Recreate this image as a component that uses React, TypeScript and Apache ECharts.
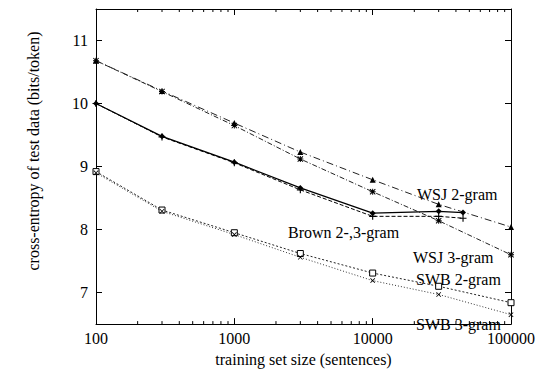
import React, { useEffect, useRef } from "react";
import * as echarts from "echarts";

const sizes = [100, 300, 1000, 3000, 10000, 30000, 100000];
const brownSizes = [100, 300, 1000, 3000, 10000, 30000, 45000];
const wsj2 = [10.68, 10.2, 9.69, 9.23, 8.79, 8.4, 8.04];
const wsj3 = [10.68, 10.19, 9.65, 9.12, 8.6, 8.14, 7.6];
const brown2 = [10.0, 9.48, 9.07, 8.66, 8.26, 8.29, 8.27];
const brown3 = [10.0, 9.47, 9.06, 8.63, 8.21, 8.21, 8.18];
const swb2 = [8.92, 8.31, 7.95, 7.62, 7.31, 7.1, 6.84];
const swb3 = [8.9, 8.29, 7.92, 7.56, 7.19, 6.97, 6.65];
const minorX = [
  200, 300, 400, 500, 600, 700, 800, 900,
  2000, 3000, 4000, 5000, 6000, 7000, 8000, 9000,
  20000, 30000, 40000, 50000, 60000, 70000, 80000, 90000,
];
const curveLabels = ["WSJ 2-gram", "Brown 2-,3-gram", "WSJ 3-gram", "SWB 2-gram", "SWB 3-gram"];
const xTitle = "training set size (sentences)";
const yTitle = "cross-entropy of test data (bits/token)";

const FONT = '"Liberation Serif", "Times New Roman", serif';
const PLUS = "path://M4.2,0H5.8V4.2H10V5.8H5.8V10H4.2V5.8H0V4.2H4.2Z";
const CROSS = "path://M0,1.1L1.1,0L5,3.9L8.9,0L10,1.1L6.1,5L10,8.9L8.9,10L5,6.1L1.1,10L0,8.9L3.9,5Z";
const STAR =
  "path://M4.2,0H5.8V4.2H10V5.8H5.8V10H4.2V5.8H0V4.2H4.2Z M0,1.1L1.1,0L5,3.9L8.9,0L10,1.1L6.1,5L10,8.9L8.9,10L5,6.1L1.1,10L0,8.9L3.9,5Z";

const zip = (xs: number[], ys: number[]) => xs.map((x, i) => [x, ys[i]]);

export default function App() {
  const ref = useRef<HTMLDivElement>(null);
  useEffect(() => {
    if (!ref.current) return;
    const chart = echarts.init(ref.current, null, { renderer: "svg" });
    const lineSeries = (
      name: string,
      xs: number[],
      ys: number[],
      symbol: string,
      symbolSize: number,
      type: any,
      width: number,
      color: string,
      fill?: string
    ) => ({
      name,
      type: "line",
      data: zip(xs, ys),
      symbol,
      symbolSize,
      showSymbol: true,
      xAxisIndex: 0,
      yAxisIndex: 0,
      lineStyle: { color, width, type },
      itemStyle: fill
        ? { color: fill, borderColor: "#000", borderWidth: 1 }
        : { color: "#000", borderWidth: 0 },
      z: 3,
    });
    const labelStyle = { fontFamily: FONT, fontSize: 16, fill: "#000" };
    chart.setOption({
      animation: false,
      grid: { left: 96, right: 27, top: 9, bottom: 41 },
      xAxis: [
        {
          type: "log",
          logBase: 10,
          min: 100,
          max: 100000,
          position: "bottom",
          axisLine: { show: true, lineStyle: { color: "#000", width: 1 } },
          axisTick: { show: true, inside: true, length: 6, lineStyle: { color: "#000" } },
          axisLabel: {
            fontFamily: FONT,
            fontSize: 16,
            color: "#000",
            margin: 6,
            formatter: (v: number) => String(Math.round(v)),
          },
          splitLine: { show: false },
          name: xTitle,
          nameLocation: "middle",
          nameGap: 24,
          nameTextStyle: { fontFamily: FONT, fontSize: 16, color: "#000" },
        },
        {
          type: "log",
          logBase: 10,
          min: 100,
          max: 100000,
          position: "top",
          axisLine: { show: true, lineStyle: { color: "#000", width: 1 } },
          axisTick: { show: true, inside: true, length: 6, lineStyle: { color: "#000" } },
          axisLabel: { show: false },
          splitLine: { show: false },
        },
      ],
      yAxis: [
        {
          type: "value",
          min: 6.5,
          max: 11.5,
          splitNumber: 5,
          position: "left",
          axisLine: { show: true, lineStyle: { color: "#000", width: 1 } },
          axisTick: { show: true, inside: true, length: 6, lineStyle: { color: "#000" } },
          axisLabel: {
            fontFamily: FONT,
            fontSize: 16,
            color: "#000",
            margin: 8,
            showMinLabel: false,
            showMaxLabel: false,
            formatter: (v: number) => (Number.isInteger(v) ? String(v) : ""),
          },
          splitLine: { show: false },
        },
        {
          type: "value",
          min: 6.5,
          max: 11.5,
          splitNumber: 5,
          position: "right",
          axisLine: { show: true, lineStyle: { color: "#000", width: 1 } },
          axisTick: { show: true, inside: true, length: 6, lineStyle: { color: "#000" } },
          axisLabel: { show: false },
          splitLine: { show: false },
        },
      ],
      graphic: [
        {
          type: "text",
          x: 33,
          y: 151,
          rotation: Math.PI / 2,
          style: { ...labelStyle, text: yTitle, textAlign: "center", textVerticalAlign: "middle" },
        },
        { type: "text", x: 417, y: 194, style: { ...labelStyle, text: curveLabels[0], textVerticalAlign: "middle" } },
        { type: "text", x: 288, y: 232, style: { ...labelStyle, text: curveLabels[1], textVerticalAlign: "middle" } },
        { type: "text", x: 413, y: 257, style: { ...labelStyle, text: curveLabels[2], textVerticalAlign: "middle" } },
        { type: "text", x: 416, y: 279, style: { ...labelStyle, text: curveLabels[3], textVerticalAlign: "middle" } },
        { type: "text", x: 416, y: 324, style: { ...labelStyle, text: curveLabels[4], textVerticalAlign: "middle" } },
      ],
      series: [
        {
          type: "custom",
          xAxisIndex: 0,
          yAxisIndex: 0,
          data: minorX.map((v) => [v, 6.5]),
          silent: true,
          z: 1,
          renderItem: (params: any, api: any) => {
            const cs = params.coordSys;
            const p = api.coord([api.value(0), api.value(1)]);
            const st = { stroke: "#000", lineWidth: 1 };
            return {
              type: "group",
              children: [
                { type: "line", shape: { x1: p[0], y1: cs.y + cs.height, x2: p[0], y2: cs.y + cs.height - 3 }, style: st },
                { type: "line", shape: { x1: p[0], y1: cs.y, x2: p[0], y2: cs.y + 3 }, style: st },
              ],
            };
          },
        },
        lineSeries("WSJ 2-gram", sizes, wsj2, "triangle", 6, [7, 3, 1, 3], 1, "#222"),
        lineSeries("WSJ 3-gram", sizes, wsj3, STAR, 6, [5, 2, 1, 2], 1, "#222"),
        lineSeries("Brown 2-gram", brownSizes, brown2, "diamond", 6, "solid", 1.3, "#000"),
        lineSeries("Brown 3-gram", brownSizes, brown3, PLUS, 7, [4, 2], 1, "#000"),
        lineSeries("SWB 2-gram", sizes, swb2, "rect", 6, [2, 2], 1, "#222", "#fff"),
        lineSeries("SWB 3-gram", sizes, swb3, CROSS, 5, [1, 2], 1, "#333"),
      ],
    });
    return () => chart.dispose();
  }, []);
  return (
    <div
      ref={ref}
      style={{ position: "fixed", left: 0, top: 0, width: 538, height: 372, background: "#fff" }}
    />
  );
}
